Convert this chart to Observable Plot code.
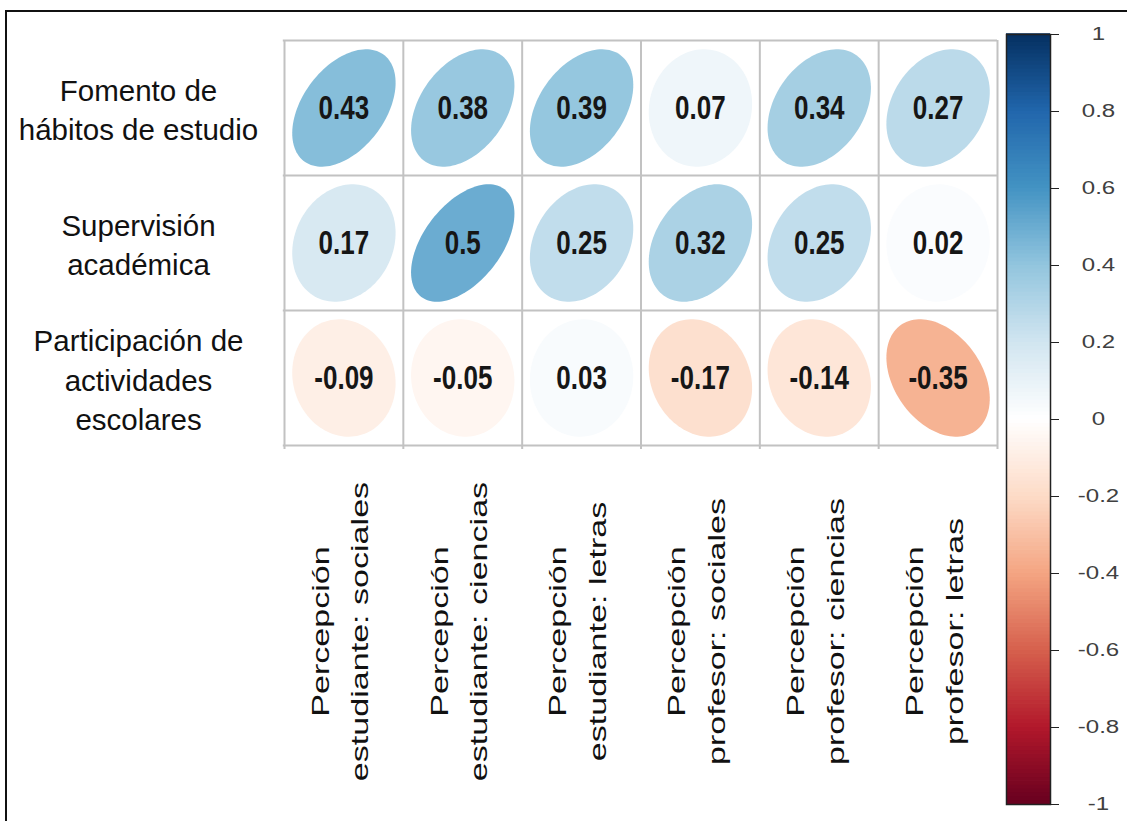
<!DOCTYPE html>
<html><head><meta charset="utf-8">
<script src="https://cdn.jsdelivr.net/npm/d3@7"></script>
<script src="https://cdn.jsdelivr.net/npm/@observablehq/plot@0.6"></script>
<style>
html,body{margin:0;padding:0;background:#fff;overflow:hidden}
#wrap{position:relative;width:1127px;height:821px;overflow:hidden;background:#fff}
#frame{position:absolute;left:5px;top:10px;width:1200px;height:900px;border-top:2px solid #111;border-left:2px solid #111;box-sizing:border-box}
#main{position:absolute;left:0;top:0}
#bar{position:absolute;left:1000px;top:0}
svg{font-family:"Liberation Sans",Arial,sans-serif}
</style></head><body><div id="wrap"><div id="frame"></div><div id="main"></div><div id="bar"></div></div>
<script>
// ---- data ----
const rowLabels = [
  "Fomento de\nhábitos de estudio",
  "Supervisión\nacadémica",
  "Participación de\nactividades\nescolares"
];
const colLabels = [
  "Percepción\nestudiante: sociales",
  "Percepción\nestudiante: ciencias",
  "Percepción\nestudiante: letras",
  "Percepción\nprofesor: sociales",
  "Percepción\nprofesor: ciencias",
  "Percepción\nprofesor: letras"
];
const rowFomento       = [0.43, 0.38, 0.39, 0.07, 0.34, 0.27];
const rowSupervision   = [0.17, 0.5, 0.25, 0.32, 0.25, 0.02];
const rowParticipacion = [-0.09, -0.05, 0.03, -0.17, -0.14, -0.35];
const colorbarTicks = [-1, -0.8, -0.6, -0.4, -0.2, 0, 0.2, 0.4, 0.6, 0.8, 1];
const paletteStops = ["#67001F", "#B2182B", "#D6604D", "#F4A582", "#FDDBC7", "#FFFFFF",
                      "#D1E5F0", "#92C5DE", "#4393C3", "#2166AC", "#053061"];

// ---- derived tables ----
const rows = [rowFomento, rowSupervision, rowParticipacion];
const cells = [];
rows.forEach((vals, r) => vals.forEach((v, c) => cells.push({r, c, v})));
const half = 0.435;
const ellipsePts = [];
cells.forEach((d, k) => {
  const a = Math.acos(d.v) / 2;
  for (let i = 0; i <= 120; i++) {
    const t = (i / 120) * 2 * Math.PI;
    ellipsePts.push({
      id: k, v: d.v,
      x: d.c + 0.5 + half * Math.cos(t + a),
      y: d.r + 0.5 - half * Math.cos(t - a)
    });
  }
});
const colorScale = {
  type: "linear",
  domain: d3.range(11).map(i => -1 + i * 0.2),
  range: paletteStops,
  interpolate: "rgb"
};

const main = Plot.plot({
  width: 1000, height: 821,
  marginLeft: 284, marginRight: 3, marginTop: 40, marginBottom: 376,
  x: {domain: [0, 6], axis: null},
  y: {domain: [0, 3], reverse: true, axis: null},
  color: colorScale,
  style: {background: "transparent"},
  marks: [
    Plot.line(ellipsePts, {x: "x", y: "y", z: "id", fill: "v", stroke: "none", curve: "linear"}),
    Plot.ruleX(d3.range(colLabels.length + 1), {y1: 0, y2: 3.03, stroke: "#c2c2c2", strokeWidth: 2}),
    Plot.ruleY(d3.range(rowLabels.length + 1), {x1: -0.01, x2: 6, stroke: "#c2c2c2", strokeWidth: 2}),
    Plot.text(rowLabels, {x: 0, y: (d, i) => i + 0.5, text: d => d, dx: -146,
      textAnchor: "middle", lineAnchor: "middle", fontSize: 29.5, lineHeight: 1.33, fill: "#111"}),
    Plot.text(colLabels, {x: (d, i) => i + 0.5, y: 3, text: d => d, dx: -8, dy: 186, rotate: -90,
      textAnchor: "middle", lineAnchor: "middle", fontSize: 24, lineHeight: 1.65, fill: "#111"}),
    Plot.text(cells, {x: d => d.c + 0.5, y: d => d.r + 0.5, text: d => String(d.v),
      fontSize: 26, fontWeight: "bold", fill: "#161616"})
  ]
});
document.getElementById("main").appendChild(main);

// stretch glyphs about their anchor point, whichever way Plot positioned them
function stretch(t, sx, sy) {
  const tr = t.getAttribute("transform") || "";
  const x = parseFloat(t.getAttribute("x")) || 0, y = parseFloat(t.getAttribute("y")) || 0;
  t.setAttribute("transform", `${tr} translate(${x},${y}) scale(${sx},${sy}) translate(${-x},${-y})`);
}
const textGroups = main.querySelectorAll('g[aria-label="text"]');
if (textGroups[1]) textGroups[1].querySelectorAll("text").forEach(t => stretch(t, 1.42, 1));
if (textGroups[2]) textGroups[2].querySelectorAll("text").forEach(t => stretch(t, 1, 1.28));

const barSteps = d3.range(200).map(i => -1 + i * 0.01);
const bar = Plot.plot({
  width: 127, height: 821,
  marginTop: 34, marginBottom: 17, marginLeft: 6, marginRight: 77,
  y: {domain: [-1, 1], axis: null},
  color: colorScale,
  style: {background: "transparent"},
  marks: [
    Plot.rect(barSteps, {y1: d => d, y2: d => d + 0.012, fill: d => d + 0.005}),
    Plot.frame({stroke: "#222", strokeWidth: 1.5}),
    Plot.axisY(colorbarTicks, {anchor: "right", tickSize: 8, tickPadding: 40, textAnchor: "middle",
      tickFormat: d => String(d), fontSize: 18.5, stroke: "#222", fill: "#404040"})
  ]
});
document.getElementById("bar").appendChild(bar);
bar.querySelectorAll("text").forEach(t => stretch(t, 1.3, 1));
</script></body></html>
